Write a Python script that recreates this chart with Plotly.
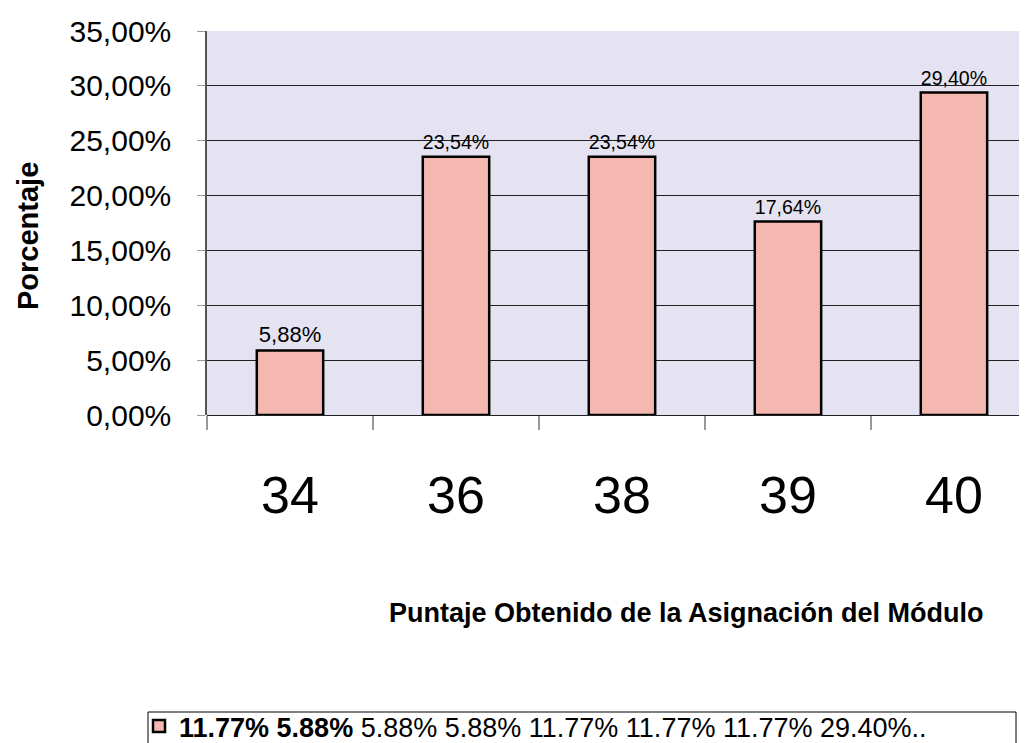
import plotly.graph_objects as go

categories = ["34", "36", "38", "39", "40"]
percentages = [5.88, 23.54, 23.54, 17.64, 29.40]
legend_label = "<b>11.77% 5.88%</b> 5.88% 5.88% 11.77% 11.77% 11.77% 29.40%.."
y_title = "Porcentaje"
x_title = "Puntaje Obtenido de la Asignación del Módulo"

FONT = "Liberation Sans, Arial, sans-serif"

# the page body adds an 8px offset; work in reference pixels and subtract it
OFF = 8
PL, PT, PR, PB = 207 - OFF, 31 - OFF, 1027 - OFF, 415 - OFF   # plot area in figure px
W, H = 1027 - OFF, 743 - OFF
PW, PH = PR - PL, PB - PT


def px_to_paper(x, y):
    return (x - OFF - PL) / PW, (PB - (y - OFF)) / PH


fig = go.Figure()
fig.add_trace(go.Bar(
    x=categories,
    y=percentages,
    name=legend_label,
    width=0.4,
    marker=dict(color="#f5b8b0", line=dict(color="#000000", width=2.5)),
    texttemplate="%{y:.2f}%",
    textposition="outside",
    textfont=dict(family=FONT, size=22, color="#000000"),
    cliponaxis=False,
    showlegend=True,
))

lx, ly = px_to_paper(139, 702)
tx, ty = px_to_paper(28, 236)
ax_, ay_ = px_to_paper(686, 613)
bx0, by0 = px_to_paper(148, 712)
bx1, by1 = px_to_paper(1016, 770)

fig.update_layout(
    width=W,
    height=H,
    separators=",.",
    paper_bgcolor="#ffffff",
    plot_bgcolor="#e5e3f1",
    font=dict(family=FONT, color="#000000"),
    margin=dict(l=PL, r=W - PR, t=PT, b=H - PB, autoexpand=False, pad=0),
    showlegend=True,
    legend=dict(
        orientation="h",
        x=lx,
        y=ly,
        xanchor="left",
        yanchor="top",
        borderwidth=0,
        bgcolor="rgba(0,0,0,0)",
        font=dict(family=FONT, size=27, color="#000000"),
        entrywidth=850,
        entrywidthmode="pixels",
        itemclick=False,
    ),
    shapes=[
        dict(
            type="rect", xref="paper", yref="paper",
            x0=bx0, y0=by0, x1=bx1, y1=by1,
            line=dict(color="#000000", width=1),
            fillcolor="#ffffff", layer="below",
        ),
    ],
    xaxis=dict(
        type="category",
        range=[-0.5, 4.44],
        tickson="boundaries",
        ticks="outside",
        ticklen=14,
        tickcolor="#9a9a9a",
        tickwidth=1.5,
        tickfont=dict(family=FONT, size=52, color="#000000"),
        ticklabelstandoff=45,
        showgrid=False,
        showline=False,
        zeroline=False,
    ),
    yaxis=dict(
        range=[0, 35],
        tickmode="linear",
        tick0=0,
        dtick=5,
        tickformat=".2f",
        ticksuffix="%",
        tickfont=dict(family=FONT, size=30, color="#000000"),
        ticks="outside",
        ticklen=8,
        tickcolor="#9a9a9a",
        ticklabelstandoff=20,
        showgrid=True,
        gridcolor="#222222",
        gridwidth=1,
        showline=True,
        linecolor="#555555",
        linewidth=1.5,
        zeroline=True,
        zerolinecolor="#222222",
        zerolinewidth=1,
    ),
    annotations=[
        dict(
            text=f"<b>{y_title}</b>",
            x=tx, y=ty, xref="paper", yref="paper",
            showarrow=False, textangle=-90,
            font=dict(family=FONT, size=29, color="#000000"),
            xanchor="center", yanchor="middle",
        ),
        dict(
            text=f"<b>{x_title}</b>",
            x=ax_, y=ay_, xref="paper", yref="paper",
            showarrow=False,
            font=dict(family=FONT, size=27, color="#000000"),
            xanchor="center", yanchor="middle",
        ),
    ],
)

fig.write_html("out.html")
